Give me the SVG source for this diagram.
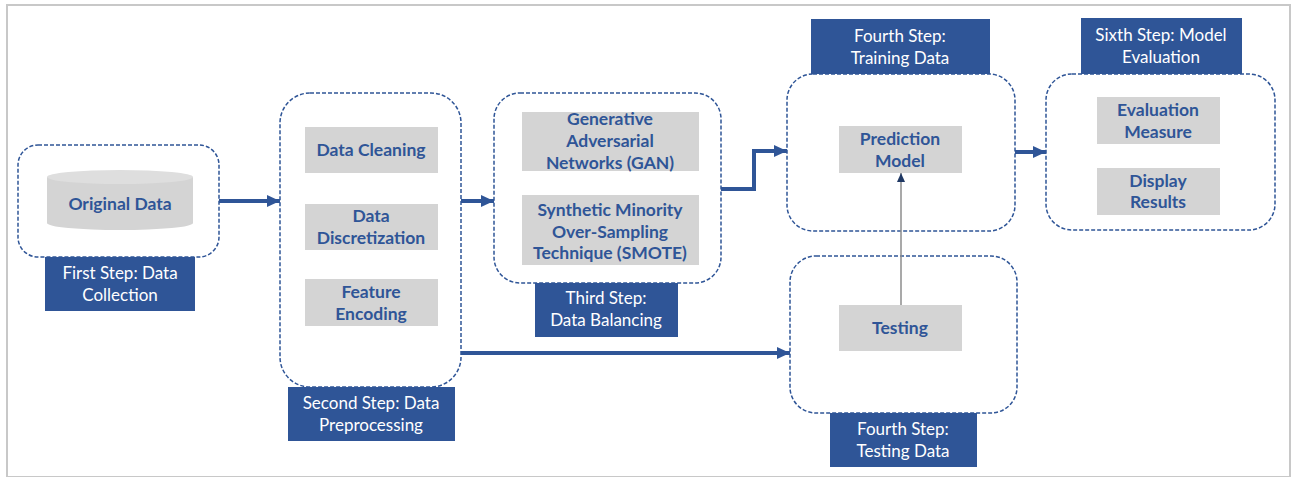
<svg xmlns="http://www.w3.org/2000/svg" width="1294" height="477" viewBox="0 0 1294 477">
  <style>
    .frame { fill: #ffffff; stroke: #c8c8c8; stroke-width: 2; }
    .group { fill: #ffffff; stroke: #2f5597; stroke-width: 1.5; stroke-dasharray: 4 2; }
    .item { fill: #d4d4d4; }
    .tag { fill: #2f5597; }
    .itemText { font-family: Lato, "Open Sans", sans-serif; font-weight: bold; font-size: 17.5px; fill: #2f5597; text-anchor: middle; }
    .tagText { font-family: Lato, "Open Sans", sans-serif; font-size: 17px; fill: #ffffff; text-anchor: middle; }
    .flow { fill: none; stroke: #2f5597; stroke-width: 4; }
    .link { fill: none; stroke: #8c8c8c; stroke-width: 1.5; }
  </style>
  <defs>
    <marker id="headBig" markerUnits="userSpaceOnUse" markerWidth="14" markerHeight="14" refX="13" refY="7" orient="auto">
      <path d="M0,1 L13,7 L0,13 Z" fill="#2f5597"/>
    </marker>
    <marker id="headSmall" markerUnits="userSpaceOnUse" markerWidth="10" markerHeight="10" refX="9" refY="5" orient="auto">
      <path d="M0,1 L9,5 L0,9 Z" fill="#1f3864"/>
    </marker>
  </defs>

  <rect class="frame" x="7" y="5" width="1283" height="472"/>

  <!-- step 1: data collection -->
  <g id="step1">
    <rect class="group" x="18" y="145" width="201" height="112" rx="20"/>
    <path class="item" d="M47,177 V223 A73,7 0 0 0 193,223 V177 Z"/>
    <ellipse cx="120" cy="177" rx="73" ry="7" fill="#dedede"/>
    <text class="itemText" x="120" y="210">Original Data</text>
    <rect class="tag" x="45" y="257" width="150" height="54"/>
    <text class="tagText" x="120" y="279">First Step: Data</text>
    <text class="tagText" x="120" y="301">Collection</text>
  </g>

  <!-- step 2: data preprocessing -->
  <g id="step2">
    <rect class="group" x="280" y="93" width="181" height="294" rx="30"/>
    <rect class="item" x="305" y="127" width="133" height="46"/>
    <text class="itemText" x="371" y="156">Data Cleaning</text>
    <rect class="item" x="305" y="204" width="133" height="46"/>
    <text class="itemText" x="371" y="222">Data</text>
    <text class="itemText" x="371" y="244">Discretization</text>
    <rect class="item" x="305" y="279" width="133" height="47"/>
    <text class="itemText" x="371" y="298">Feature</text>
    <text class="itemText" x="371" y="320">Encoding</text>
    <rect class="tag" x="288" y="387" width="167" height="54"/>
    <text class="tagText" x="371" y="409">Second Step: Data</text>
    <text class="tagText" x="371" y="431">Preprocessing</text>
  </g>

  <!-- step 3: data balancing -->
  <g id="step3">
    <rect class="group" x="494" y="93" width="227" height="190" rx="26"/>
    <rect class="item" x="522" y="112" width="177" height="59"/>
    <text class="itemText" x="610" y="125">Generative</text>
    <text class="itemText" x="610" y="147">Adversarial</text>
    <text class="itemText" x="610" y="169">Networks (GAN)</text>
    <rect class="item" x="522" y="195" width="177" height="70"/>
    <text class="itemText" x="610" y="216">Synthetic Minority</text>
    <text class="itemText" x="610" y="238">Over-Sampling</text>
    <text class="itemText" x="610" y="259">Technique (SMOTE)</text>
    <rect class="tag" x="535" y="283" width="143" height="54"/>
    <text class="tagText" x="606" y="304">Third Step:</text>
    <text class="tagText" x="606" y="326">Data Balancing</text>
  </g>

  <!-- step 4: training data -->
  <g id="step4-training">
    <rect class="tag" x="811" y="19" width="179" height="55"/>
    <text class="tagText" x="900" y="42">Fourth Step:</text>
    <text class="tagText" x="900" y="64">Training Data</text>
    <rect class="group" x="787" y="74" width="228" height="157" rx="26"/>
    <rect class="item" x="839" y="126" width="123" height="47"/>
    <text class="itemText" x="900" y="145">Prediction</text>
    <text class="itemText" x="900" y="167">Model</text>
  </g>

  <!-- step 4: testing data -->
  <g id="step4-testing">
    <rect class="group" x="790" y="256" width="227" height="157" rx="26"/>
    <rect class="item" x="839" y="305" width="123" height="46"/>
    <text class="itemText" x="900" y="334">Testing</text>
    <rect class="tag" x="830" y="413" width="147" height="54"/>
    <text class="tagText" x="903" y="435">Fourth Step:</text>
    <text class="tagText" x="903" y="457">Testing Data</text>
  </g>

  <!-- step 6: model evaluation -->
  <g id="step6">
    <rect class="tag" x="1081" y="18" width="161" height="56"/>
    <text class="tagText" x="1161" y="41">Sixth Step: Model</text>
    <text class="tagText" x="1161" y="63">Evaluation</text>
    <rect class="group" x="1046" y="74" width="229" height="156" rx="26"/>
    <rect class="item" x="1097" y="97" width="123" height="47"/>
    <text class="itemText" x="1158" y="116">Evaluation</text>
    <text class="itemText" x="1158" y="138">Measure</text>
    <rect class="item" x="1097" y="168" width="123" height="47"/>
    <text class="itemText" x="1158" y="187">Display</text>
    <text class="itemText" x="1158" y="208">Results</text>
  </g>

  <!-- connectors, drawn last so they sit over the white group fills -->
  <g id="connectors">
    <path class="flow" d="M219,201 H280" marker-end="url(#headBig)"/>
    <path class="flow" d="M461,201 H494" marker-end="url(#headBig)"/>
    <path class="flow" d="M721,189 H754 V151 H787" marker-end="url(#headBig)"/>
    <path class="flow" d="M1015,152 H1046" marker-end="url(#headBig)"/>
    <path class="flow" d="M461,353 H790" marker-end="url(#headBig)"/>
    <path class="link" d="M901,305 V173" marker-end="url(#headSmall)"/>
  </g>
</svg>
